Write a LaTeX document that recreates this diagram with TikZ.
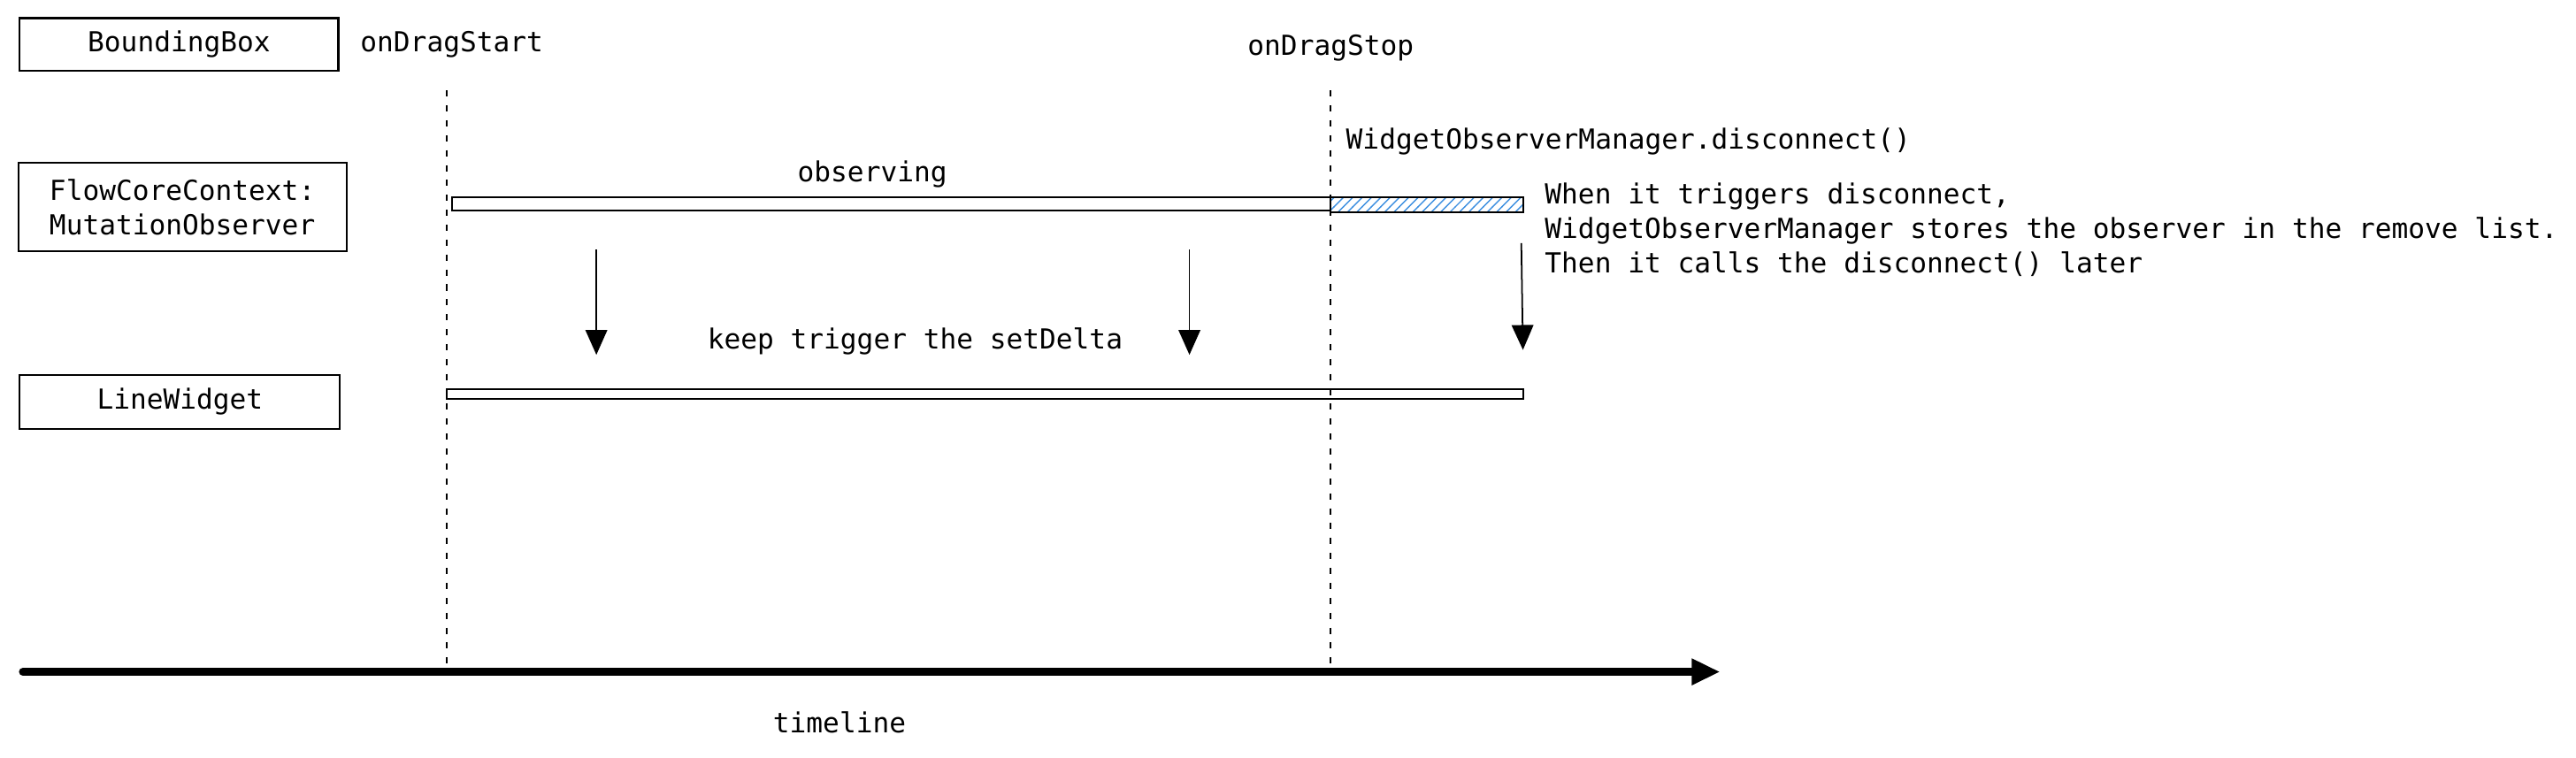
\documentclass[tikz,border=0pt]{standalone}
\usepackage{fontspec}
\setmainfont{DejaVu Sans Mono}
\usetikzlibrary{arrows.meta, positioning, patterns}
\definecolor{hatchblue}{HTML}{3D8FE0}

\begin{document}
\begin{tikzpicture}[
		x=0.01857cm, y=-0.01857cm,
		font=\fontsize{8.87}{11.1}\selectfont,
		box/.style={draw, line width=0.6pt, inner sep=0pt, align=center},
		txt/.style={inner sep=0pt},
		bar/.style={draw, line width=0.6pt},
		guide/.style={line width=0.6pt, dash pattern=on 2pt off 2.8pt},
		arrow/.style={-{Triangle[width=7pt, length=8pt]}, line width=0.5pt},
		timeline/.style={-{Triangle[width=0.28cm, length=0.32cm]}, line width=2.6pt, line cap=round}
	]
		\useasboundingbox (0,0) rectangle (1568,461);

		% Nodes
		\node[box, minimum width=3.6cm, minimum height=0.594cm] (bbox) at (109,27) {BoundingBox};
		\node[box, minimum width=3.71cm, minimum height=1cm] (flowctx) at (111,126) {FlowCoreContext:\\MutationObserver};
		\node[box, minimum width=3.62cm, minimum height=0.61cm] (linewidget) at (109.5,244.5) {LineWidget};
		\node[txt, anchor=west] (dragstart) at (219,27) {onDragStart};
		\node[txt] (dragstop) at (810,29) {onDragStop};
		\node[txt] (observing) at (531,106) {observing};
		\node[txt, anchor=west] (disconnect) at (819,86) {WidgetObserverManager.disconnect()};
		\node[txt] (setdelta) at (557,208) {keep trigger the setDelta};
		\node[txt, anchor=west, align=left] (note) at (940,140) {When it triggers disconnect,\\WidgetObserverManager stores the observer in the remove list.\\Then it calls the disconnect() later};
		\node[txt] (timelabel) at (511,440) {timeline};

		% Bars
		\draw[bar] (275,120) rectangle (810,128);
		\draw[bar, pattern=north east lines, pattern color=hatchblue] (810,120) rectangle (927,129);
		\draw[bar] (272,237) rectangle (927,243);

		% Guides
		\coordinate (start top) at (272,55);
		\coordinate (start bottom) at (272,408);
		\coordinate (stop top) at (810,55);
		\coordinate (stop bottom) at (810,408);
		\draw[guide] (start top) -- (start bottom);
		\draw[guide] (stop top) -- (stop bottom);

		% Arrows
		\coordinate (first from) at (363,152);
		\coordinate (first to) at (363,216);
		\coordinate (second from) at (724,152);
		\coordinate (second to) at (724,216);
		\coordinate (third from) at (926,148);
		\coordinate (third to) at (927,213);
		\draw[arrow] (first from) -- (first to);
		\draw[arrow] (second from) -- (second to);
		\draw[arrow] (third from) -- (third to);

		% Timeline
		\coordinate (time start) at (14,409);
		\coordinate (time end) at (1047,409);
		\draw[timeline] (time start) -- (time end);

	\end{tikzpicture}
\end{document}
